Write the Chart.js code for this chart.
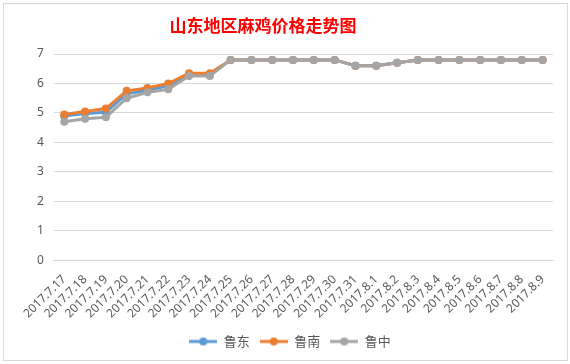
<!DOCTYPE html>
<html><head><meta charset="utf-8">
<script src="https://cdn.jsdelivr.net/npm/chart.js@4/dist/chart.umd.min.js"></script>
<style>
html,body{margin:0;padding:0;background:#fff;width:570px;height:364px;overflow:hidden;}
#box{position:absolute;left:3px;top:3px;width:563px;height:356px;border:1px solid #d9d9d9;background:#fff;}
canvas{display:block;}
</style></head>
<body>
<div id="box"><canvas id="c" width="563" height="356"></canvas></div>
<script>
const categories = ['2017.7.17','2017.7.18','2017.7.19','2017.7.20','2017.7.21','2017.7.22','2017.7.23','2017.7.24','2017.7.25','2017.7.26','2017.7.27','2017.7.28','2017.7.29','2017.7.30','2017.7.31','2017.8.1','2017.8.2','2017.8.3','2017.8.4','2017.8.5','2017.8.6','2017.8.7','2017.8.8','2017.8.9'];
const ludong  = [4.9, 4.98, 5.02, 5.65, 5.78, 5.92, 6.3, 6.3, 6.8, 6.8, 6.8, 6.8, 6.8, 6.8, 6.6, 6.6, 6.7, 6.8, 6.8, 6.8, 6.8, 6.8, 6.8, 6.8];
const lunan   = [4.95, 5.05, 5.15, 5.75, 5.85, 6.0, 6.35, 6.35, 6.8, 6.8, 6.8, 6.8, 6.8, 6.8, 6.6, 6.6, 6.7, 6.8, 6.8, 6.8, 6.8, 6.8, 6.8, 6.8];
const luzhong = [4.7, 4.8, 4.85, 5.5, 5.7, 5.8, 6.25, 6.25, 6.8, 6.8, 6.8, 6.8, 6.8, 6.8, 6.6, 6.6, 6.7, 6.8, 6.8, 6.8, 6.8, 6.8, 6.8, 6.8];
const seriesNames = ['鲁东','鲁南','鲁中'];
const chartTitle = '山东地区麻鸡价格走势图';
const yMin = 0, yMax = 7, yStep = 1;

const colors = ['#5B9BD5','#ED7D31','#A5A5A5'];
function icon(color){
  const c=document.createElement('canvas'); c.width=28; c.height=10;
  const x=c.getContext('2d');
  x.strokeStyle=color; x.lineWidth=3; x.beginPath(); x.moveTo(0,5); x.lineTo(28,5); x.stroke();
  x.fillStyle=color; x.beginPath(); x.arc(14,5,4,0,Math.PI*2); x.fill();
  return c;
}
const icons = colors.map(icon);
function ds(i,data,order){
  return {label:seriesNames[i],data:data,borderColor:colors[i],backgroundColor:colors[i],
    borderWidth:3,pointRadius:4,pointHoverRadius:4,pointBorderWidth:0,tension:0,order:order};
}
const titlePlugin = {
  id:'offTitle',
  afterDraw(chart){
    const ctx=chart.ctx; ctx.save();
    ctx.font='bold 17px "Noto Sans CJK SC"'; ctx.fillStyle='#FF0000';
    ctx.textAlign='center'; ctx.textBaseline='middle';
    ctx.fillText(chartTitle, 259, 22);
    ctx.restore();
  }
};
new Chart(document.getElementById('c'),{
  type:'line',
  data:{labels:categories,datasets:[ds(0,ludong,3),ds(1,lunan,2),ds(2,luzhong,1)]},
  plugins:[titlePlugin],
  options:{
    responsive:false,animation:false,
    layout:{padding:{left:23,right:14,top:50,bottom:2}},
    plugins:{
      title:{display:false},
      legend:{position:'bottom',
        labels:{usePointStyle:true,pointStyleWidth:28,color:'#595959',padding:10,
          font:{family:'"Noto Sans CJK SC"',size:13},
          sort:(a,b)=>a.datasetIndex-b.datasetIndex,
          generateLabels:function(chart){
            const items=Chart.defaults.plugins.legend.labels.generateLabels(chart);
            items.forEach(it=>{it.pointStyle=icons[it.datasetIndex];});
            return items;
          }}},
      tooltip:{enabled:false}
    },
    scales:{
      x:{offset:true,grid:{display:false},border:{display:true,color:'#d9d9d9'},
        ticks:{autoSkip:false,maxRotation:45,minRotation:45,color:'#595959',padding:4,
          font:{family:'"Noto Sans"',size:12}}},
      y:{min:yMin,max:yMax,grid:{color:'#d9d9d9',drawTicks:false},border:{display:false},
        ticks:{stepSize:yStep,color:'#595959',padding:10,font:{family:'"Noto Sans"',size:12}}}
    }
  }
});
</script>
</body></html>
